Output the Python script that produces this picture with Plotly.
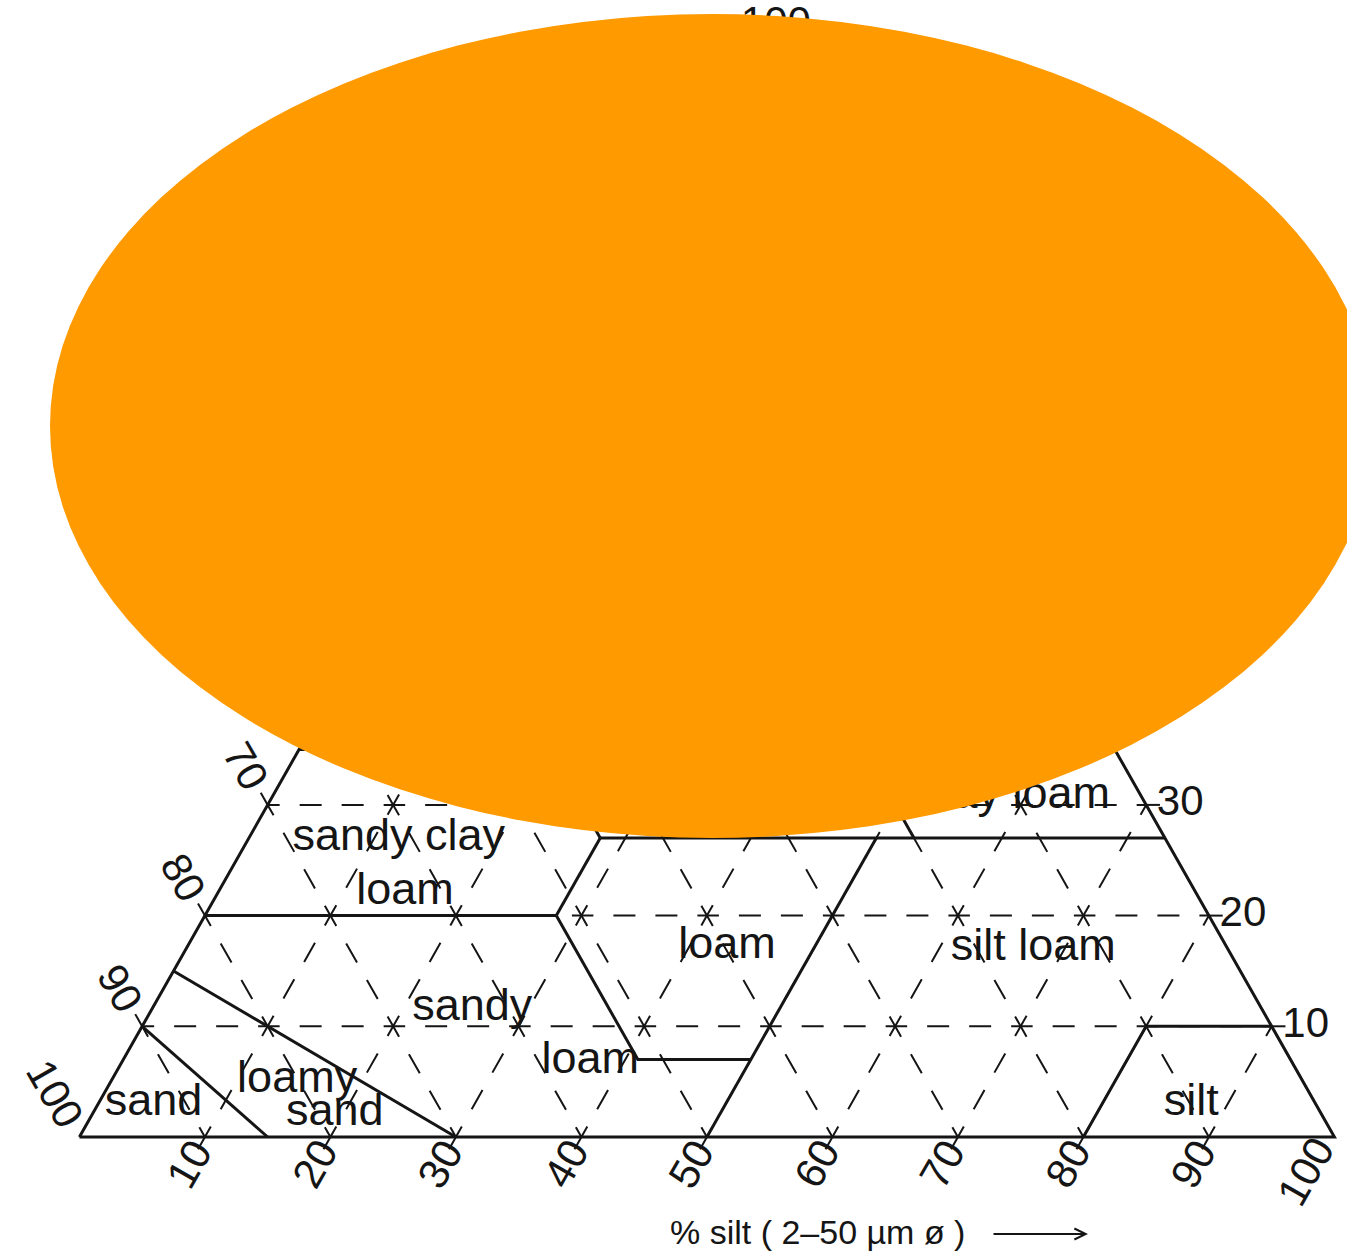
import math
import plotly.graph_objects as go

# ---------------- data ----------------
grid_levels = [10, 20, 30, 40, 50, 60, 70, 80, 90]
silt_tick_values = [10, 20, 30, 40, 50, 60, 70, 80, 90, 100]   # bottom edge
sand_tick_values = [70, 80, 90, 100]                            # left edge (visible part)
clay_tick_values = [10, 20, 30, 40, 50, 60, 70, 80, 90]         # right edge
apex_tick_label = "100"

# texture-class boundaries, points given as (sand, silt, clay) in %
b_sand = [(85, 15, 0), (90, 0, 10)]
b_loamy_sand = [(70, 30, 0), (85, 0, 15)]
b_sandy_loam_top = [(80, 0, 20), (52, 28, 20)]
b_sandy_loam_loam = [(52, 28, 20), (52, 41, 7), (43, 50, 7)]
b_silt_50 = [(50, 50, 0), (23, 50, 27)]
b_clay_27 = [(45, 28, 27), (0, 73, 27)]
b_silt_28 = [(52, 28, 20), (45, 28, 27)]
b_sand_45 = [(45, 28, 27), (45, 0, 55)]
b_clay_35 = [(65, 0, 35), (45, 20, 35)]
b_clay_40 = [(45, 15, 40), (0, 60, 40)]
b_sand_20 = [(20, 53, 27), (20, 40, 40)]
b_silt_40 = [(20, 40, 40), (0, 40, 60)]
b_silt_class = [(20, 80, 0), (10, 80, 10), (0, 90, 10)]
boundaries = [b_sand, b_loamy_sand, b_sandy_loam_top, b_sandy_loam_loam, b_silt_50,
              b_clay_27, b_silt_28, b_sand_45, b_clay_35, b_clay_40, b_sand_20,
              b_silt_40, b_silt_class]

# class names and where they are written (sand, silt, clay)
class_text = ["sand", "loamy", "sand", "sandy", "loam", "sandy clay", "loam", "loam",
              "silt loam", "silt", "silty", "clay loam", "clay loam", "sandy clay",
              "silty clay", "clay"]
class_sand = [92.6, 80.1, 78.6, 62.9, 55.9, 61.1, 63.0, 39.8, 15.5, 9.9, 7.7, 10.1, 32, 51, 5, 20]
class_silt = [4.4, 14.8, 19.3, 25.5, 37.3, 12.0, 14.9, 43.0, 67.5, 87.1, 56.9, 59.2, 34, 7, 50, 20]
class_clay = [3.0, 5.1, 2.1, 11.6, 6.8, 26.9, 22.1, 17.2, 17.0, 3.0, 35.4, 30.7, 34, 42, 45, 60]

axis_title = "% silt ( 2–50 µm ø )"

# ---------------- geometry helpers ----------------
W, H = 1347, 1254
PX0, PXU = 79.4, 12.55      # pixel of x=0, pixels per unit on x
PY0, PYU = 1137.0, 11.07    # pixel of y=0, pixels per unit on y
SEG = math.hypot(PXU / 2, PYU)   # pixels per unit along a slanted line


def tern(sand, silt, clay):
    return silt + clay / 2.0, clay


def add_seg(xs, ys, p, q):
    x0, y0 = tern(*p)
    x1, y1 = tern(*q)
    xs.extend([x0, x1, None])
    ys.extend([y0, y1, None])


BLACK = "#151515"
FONT = "Liberation Sans, Arial, sans-serif"

fig = go.Figure()

# dashed 10 % grid, drawn cell edge by cell edge
gx, gy = [], []
for k in grid_levels:
    for c in range(0, 100 - k, 10):           # constant silt
        add_seg(gx, gy, (100 - k - c, k, c), (100 - k - c - 10, k, c + 10))
    for s in range(0, 100 - k, 10):           # constant sand
        add_seg(gx, gy, (k, s, 100 - k - s), (k, s + 10, 100 - k - s - 10))
    for s in range(0, 100 - k, 10):           # constant clay
        add_seg(gx, gy, (100 - k - s, s, k), (100 - k - s - 10, s + 10, k))
fig.add_trace(go.Scatter(x=gx, y=gy, mode="lines", hoverinfo="skip",
                         line=dict(color=BLACK, width=2,
                                   dash="12px,20px,22px,20px,22px,20px,14px")))

# ticks outside the edges
TL = 1.1
tx, ty = [], []
for k in grid_levels:
    add_seg(tx, ty, (100 - k, k, 0), (100 - k + TL, k, -TL))
    add_seg(tx, ty, (k, 0, 100 - k), (k, -TL, 100 - k + TL))
    add_seg(tx, ty, (0, 100 - k, k), (-TL, 100 - k + TL, k))
fig.add_trace(go.Scatter(x=tx, y=ty, mode="lines", hoverinfo="skip",
                         line=dict(color=BLACK, width=2)))

# class boundaries
bx, by = [], []
for line in boundaries:
    for p in line:
        x, y = tern(*p)
        bx.append(x)
        by.append(y)
    bx.append(None)
    by.append(None)
fig.add_trace(go.Scatter(x=bx, y=by, mode="lines", hoverinfo="skip",
                         line=dict(color=BLACK, width=3)))

# triangle outline
ox, oy = zip(*[tern(*p) for p in [(100, 0, 0), (0, 100, 0), (0, 0, 100), (100, 0, 0)]])
fig.add_trace(go.Scatter(x=list(ox), y=list(oy), mode="lines", hoverinfo="skip",
                         line=dict(color=BLACK, width=3)))

# class names
lx, ly = [], []
for s, si, c in zip(class_sand, class_silt, class_clay):
    x, y = tern(s, si, c)
    lx.append(x)
    ly.append(y)
fig.add_trace(go.Scatter(x=lx, y=ly, mode="text", text=class_text, hoverinfo="skip",
                         textposition="middle center", cliponaxis=False,
                         textfont=dict(family=FONT, size=45, color=BLACK)))

# clay tick labels on the right edge + apex label
rx, ry, rt = [], [], []
for c in clay_tick_values:
    x, y = tern(0, 100 - c, c)
    rx.append(x + (10 + 12 * len(str(c))) / PXU)
    ry.append(y)
    rt.append(str(c))
ax_, ay_ = tern(0, 0, 100)
rx.append(ax_ + 69 / PXU)
ry.append(ay_ + 5 / PYU)
rt.append(apex_tick_label)
fig.add_trace(go.Scatter(x=rx, y=ry, mode="text", text=rt, hoverinfo="skip",
                         textposition="middle center", cliponaxis=False,
                         textfont=dict(family=FONT, size=42, color=BLACK)))

annotations = []
# silt labels under the bottom edge
for s in silt_tick_values:
    t = (31 if s < 100 else 40) / SEG
    x, y = tern(100 - s + t, s, -t)
    annotations.append(dict(x=x, y=y, text=str(s), textangle=-60, showarrow=False,
                            xanchor="center", yanchor="middle",
                            xshift=(0 if s < 100 else -9),
                            font=dict(family=FONT, size=42, color=BLACK)))
# sand labels on the left edge
for v in sand_tick_values:
    t = (44 if v < 100 else 50) / SEG
    x, y = tern(v, -t, 100 - v + t)
    annotations.append(dict(x=x, y=y, text=str(v), textangle=60, showarrow=False,
                            xanchor="center", yanchor="middle",
                            font=dict(family=FONT, size=42, color=BLACK)))
# axis title and arrow
annotations.append(dict(x=(817 - PX0) / PXU, y=(PY0 - 1232) / PYU, text=axis_title,
                        showarrow=False, xanchor="center", yanchor="middle",
                        font=dict(family=FONT, size=34, color=BLACK)))
annotations.append(dict(x=(1088 - PX0) / PXU, y=(PY0 - 1234) / PYU, text="",
                        showarrow=True, ax=-96, ay=0, arrowhead=5, arrowsize=1.1,
                        arrowwidth=2, arrowcolor=BLACK))

fig.update_layout(
    width=W, height=H,
    margin=dict(l=0, r=0, t=0, b=0),
    paper_bgcolor="white", plot_bgcolor="white",
    showlegend=False,
    xaxis=dict(visible=False, range=[-PX0 / PXU, (W - PX0) / PXU], fixedrange=True),
    yaxis=dict(visible=False, range=[(PY0 - H) / PYU, PY0 / PYU], fixedrange=True),
    annotations=annotations,
    shapes=[dict(type="circle", xref="paper", yref="paper",
                 x0=50 / W, x1=1374 / W, y0=1 - 838 / H, y1=1 - 14 / H,
                 fillcolor="#FF9A00", line=dict(width=0), layer="above")],
)

fig.write_html("out.html")
